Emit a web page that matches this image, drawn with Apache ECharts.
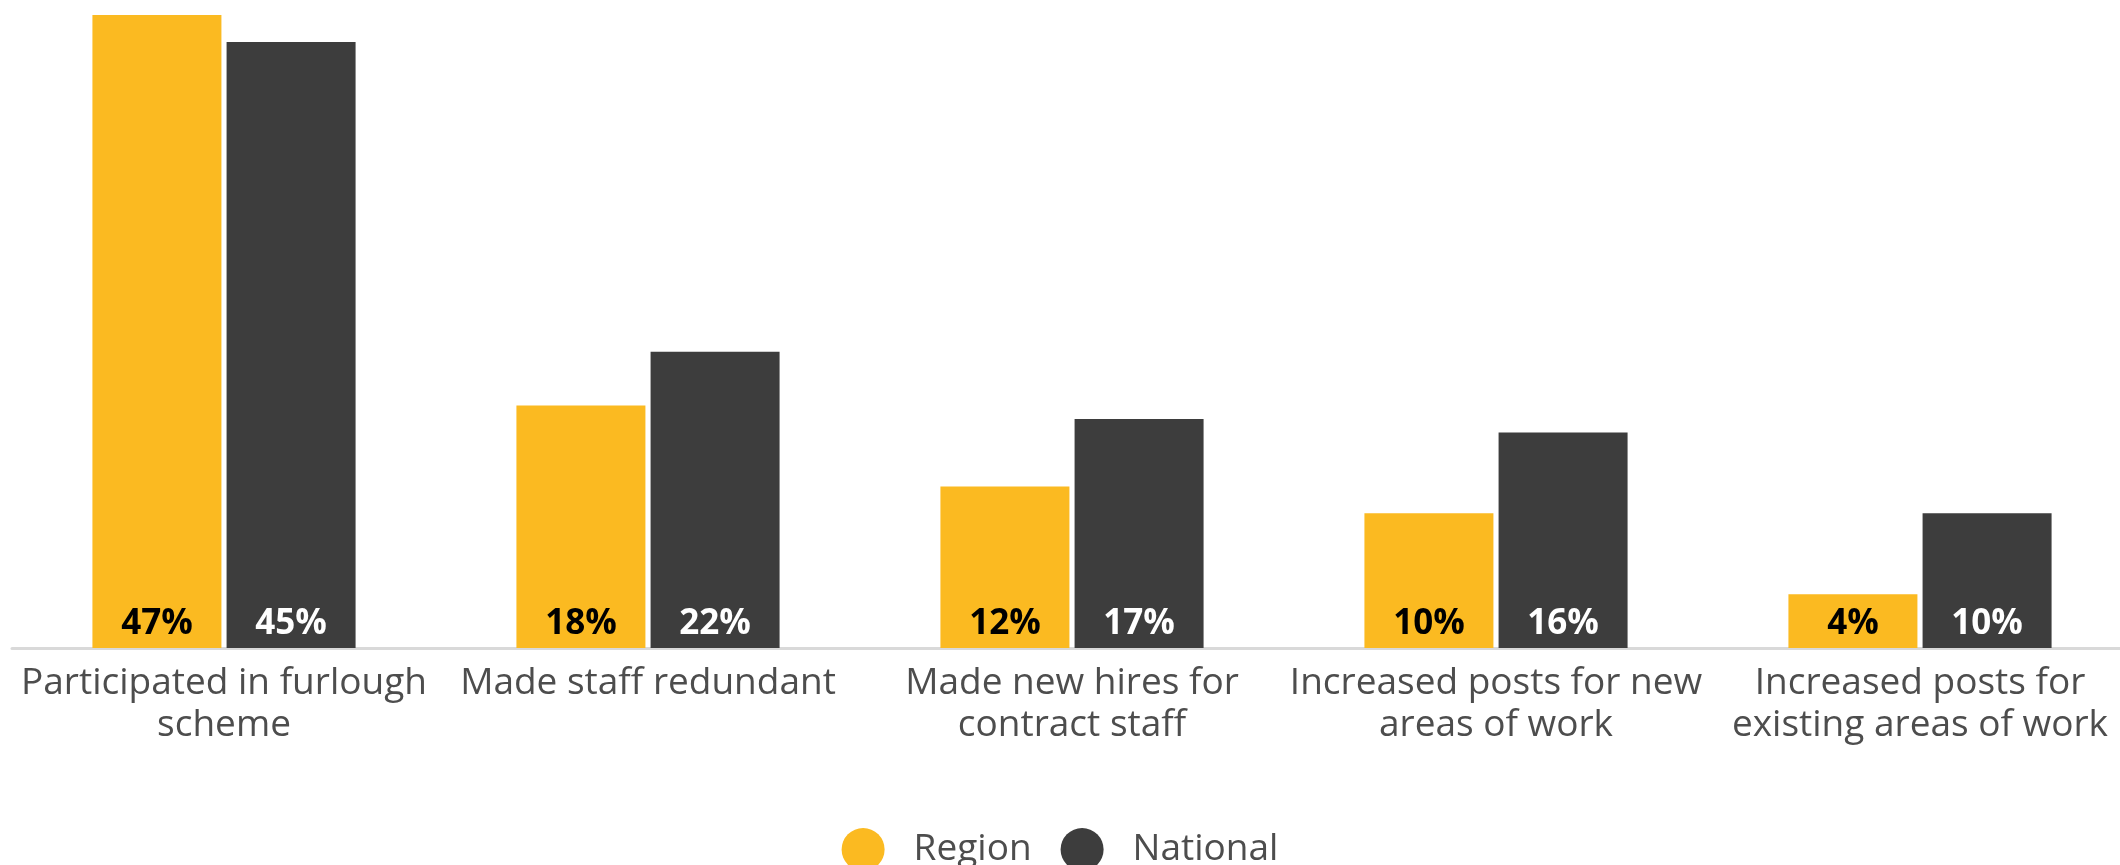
<!DOCTYPE html>
<html>
<head>
<meta charset="utf-8">
<script src="https://cdn.jsdelivr.net/npm/echarts@6/dist/echarts.min.js"></script>
<style>
    html, body { margin: 0; padding: 0; background: #fff; }
    #chart { width: 2120px; height: 865px; }
</style>
</head>
<body>
<div id="chart"></div>
<script>
let categories = [
    'Participated in furlough\nscheme',
    'Made staff redundant',
    'Made new hires for\ncontract staff',
    'Increased posts for new\nareas of work',
    'Increased posts for\nexisting areas of work'
];
let region = [47, 18, 12, 10, 4];
let national = [45, 22, 17, 16, 10];

let font = 'Open Sans';

function bar_label(color) {
    return {
        show: true,
        position: 'insideBottom',
        distance: 6,
        formatter: '{c}%',
        color: color,
        fontFamily: font,
        fontWeight: 'bold',
        fontSize: 35
    };
}

let myChart = echarts.init(document.getElementById('chart'));
myChart.setOption({
    animation: false,
    grid: {
        left: 12,
        width: 2120,
        top: 15,
        height: 633,
        outerBoundsMode: 'none',
        containLabel: false
    },
    xAxis: {
        type: 'category',
        data: categories,
        axisTick: { show: false },
        axisLine: { lineStyle: { color: '#d9d9d9', width: 3 } },
        axisLabel: {
            color: '#4d4d4d',
            fontFamily: font,
            fontSize: 37,
            lineHeight: 42,
            margin: 14,
            interval: 0
        }
    },
    yAxis: {
        type: 'value',
        min: 0,
        max: 47,
        show: false,
        splitLine: { show: false }
    },
    legend: {
        bottom: -11,
        left: 'center',
        icon: 'circle',
        itemWidth: 43,
        itemHeight: 43,
        itemGap: 29,
        textStyle: {
            color: '#4d4d4d',
            fontFamily: font,
            fontSize: 37,
            padding: [0, 0, 0, 24]
        },
        data: ['Region', 'National']
    },
    series: [
        {
            name: 'Region',
            type: 'bar',
            data: region,
            barWidth: 129,
            barGap: '4%',
            itemStyle: { color: '#fbba21' },
            label: bar_label('#000')
        },
        {
            name: 'National',
            type: 'bar',
            data: national,
            barWidth: 129,
            itemStyle: { color: '#3d3d3d' },
            label: bar_label('#fff')
        }
    ]
});
</script>
</body>
</html>
